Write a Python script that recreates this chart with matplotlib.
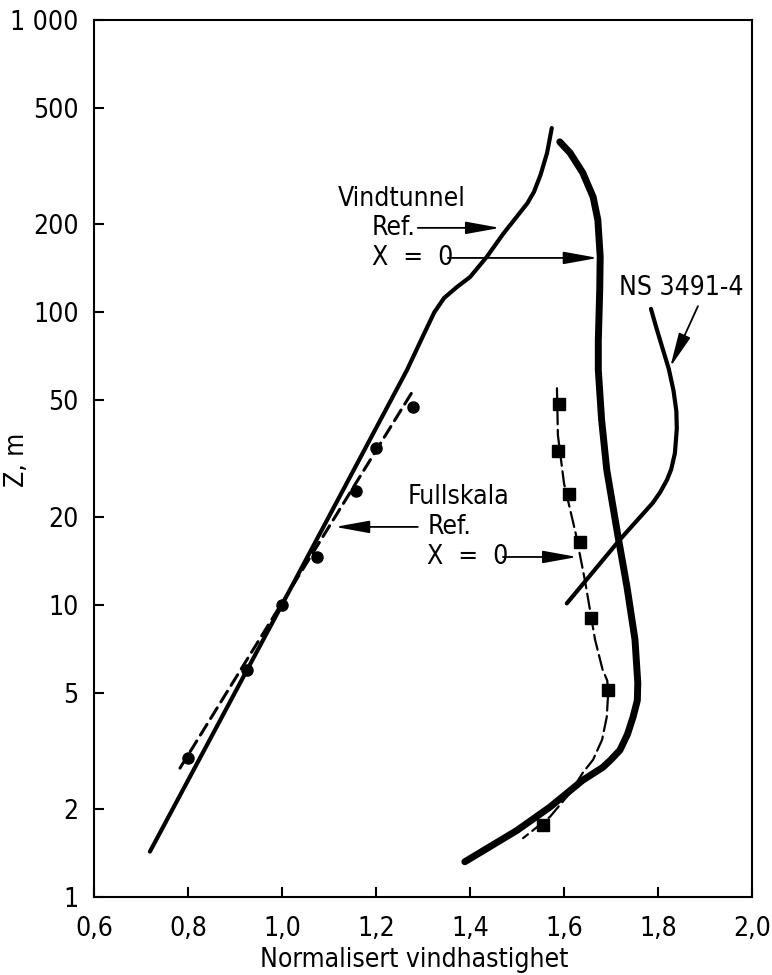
import matplotlib
matplotlib.use("Agg")
import matplotlib.pyplot as plt
from matplotlib import font_manager

plt.rcParams['lines.scale_dashes'] = False
fl = font_manager.fontManager.ttflist
names = {f.name for f in fl}
stretch = 'normal'
fs = 19
if 'Liberation Sans Narrow' in names:
    fam = ['Liberation Sans Narrow', 'DejaVu Sans']
    fs = 20
elif any(f.name == 'DejaVu Sans' and str(f.stretch) in ('condensed', 'semi-condensed') for f in fl):
    fam = ['DejaVu Sans']
    stretch = 'condensed'
else:
    fam = ['Liberation Sans', 'DejaVu Sans']
    fs = 20
plt.rcParams['font.family'] = fam
plt.rcParams['font.stretch'] = stretch

# ---- data ----
x_ticks = [0.6, 0.8, 1.0, 1.2, 1.4, 1.6, 1.8, 2.0]
x_tick_labels = ["0,6", "0,8", "1,0", "1,2", "1,4", "1,6", "1,8", "2,0"]
y_ticks = [1, 2, 5, 10, 20, 50, 100, 200, 500, 1000]
y_tick_labels = ["1", "2", "5", "10", "20", "50", "100", "200", "500", "1 000"]

# Vindtunnel, Ref.
vt_ref_x = [0.719, 1.000, 1.266, 1.300, 1.324, 1.345, 1.372, 1.400, 1.436, 1.470, 1.506,
            1.522, 1.536, 1.550, 1.564, 1.574]
vt_ref_z = [1.43, 10.0, 63.5, 83.0, 100.0, 112.0, 122.0, 132.0, 155.0, 185.0, 219.0,
            236.0, 258.0, 295.0, 351.0, 427.0]

# Vindtunnel, X = 0
vt_x0_x = [1.591, 1.613, 1.640, 1.662, 1.672, 1.677, 1.676, 1.673, 1.673, 1.680, 1.691, 1.715,
           1.734, 1.751, 1.757, 1.756, 1.747, 1.735, 1.719, 1.700, 1.683, 1.640, 1.570, 1.500, 1.389]
vt_x0_z = [383, 351, 300, 248, 207, 155, 119, 80, 63.5, 42.9, 28.9, 17.1,
           11.5, 7.6, 5.4, 4.7, 4.13, 3.6, 3.18, 2.95, 2.78, 2.51, 2.03, 1.69, 1.32]

# NS 3491-4
ns_x = [1.785, 1.797, 1.810, 1.823, 1.833, 1.839, 1.840, 1.836, 1.828, 1.819, 1.805, 1.789,
        1.719, 1.606]
ns_z = [102.8, 88.0, 75.0, 64.0, 54.0, 46.0, 40.0, 33.0, 29.0, 26.7, 24.3, 22.3,
        16.7, 10.1]

# Fullskala, Ref. (points and dashed line)
fs_ref_pts_x = [0.80, 0.925, 1.00, 1.074, 1.157, 1.20, 1.279]
fs_ref_pts_z = [3.0, 6.0, 10.0, 14.6, 24.5, 34.4, 47.5]
fs_ref_line_x = [0.783, 1.277]
fs_ref_line_z = [2.76, 53.4]

# Fullskala, X = 0 (points and dashed curve)
fs_x0_pts_x = [1.589, 1.587, 1.611, 1.634, 1.657, 1.694, 1.555]
fs_x0_pts_z = [48.5, 33.6, 23.9, 16.4, 9.0, 5.11, 1.76]
fs_x0_line_x = [1.585, 1.587, 1.600, 1.625, 1.645, 1.666, 1.682, 1.692, 1.694, 1.691, 1.681,
                1.662, 1.640, 1.613, 1.570, 1.513]
fs_x0_line_z = [55.0, 38.0, 26.0, 17.5, 12.0, 7.6, 6.0, 5.5, 5.0, 4.13, 3.45,
                2.95, 2.66, 2.27, 1.88, 1.59]

# ---- figure ----
fig = plt.figure(figsize=(7.72, 9.75), dpi=100)
ax = fig.add_axes([94/772, 78/975, 658/772, 877/975])
ax.set_yscale('log')
ax.set_xlim(0.6, 2.0)
ax.set_ylim(1, 1000)

ax.plot(vt_ref_x, vt_ref_z, color='black', lw=3.0, solid_capstyle='round', solid_joinstyle='round')
ax.plot(vt_x0_x, vt_x0_z, color='black', lw=5.0, solid_capstyle='round', solid_joinstyle='round')
ax.plot(ns_x, ns_z, color='black', lw=3.0, solid_capstyle='round', solid_joinstyle='round')

l1, = ax.plot(fs_ref_line_x, fs_ref_line_z, color='black', lw=2.2, dash_capstyle='round')
l1.set_dashes((9, 5))
ax.plot(fs_ref_pts_x, fs_ref_pts_z, 'o', color='black', ms=8)

l2, = ax.plot(fs_x0_line_x, fs_x0_line_z, color='black', lw=1.6, dash_capstyle='round')
l2.set_dashes((11, 4))
ax.plot(fs_x0_pts_x, fs_x0_pts_z, 's', color='black', ms=8)

ax.set_xticks(x_ticks)
ax.set_xticklabels(x_tick_labels)
ax.set_yticks(y_ticks)
ax.set_yticklabels(y_tick_labels)
ax.yaxis.set_minor_locator(matplotlib.ticker.NullLocator())
ax.tick_params(axis='both', direction='in', length=7, width=1.5, labelsize=fs, colors='black')
ax.tick_params(axis='x', pad=14)
ax.tick_params(axis='y', pad=11)
for s in ax.spines.values():
    s.set_linewidth(1.5)

fig.text(414/772, 1 - 960/975, "Normalisert vindhastighet", ha='center', va='center', fontsize=fs)
fig.text(17/772, 1 - 460/975, "Z, m", ha='center', va='center', rotation=90, fontsize=fs)

arrow = dict(arrowstyle='-|>,head_length=2.1,head_width=0.38', color='black', lw=1.3,
             shrinkA=0, shrinkB=0)
ax.text(1.119, 244, "Vindtunnel", ha='left', va='center', fontsize=fs)
ax.text(1.191, 194.5, "Ref.", ha='left', va='center', fontsize=fs)
ax.text(1.191, 153.5, "X  =  0", ha='left', va='center', fontsize=fs)
ax.annotate("", xy=(1.464, 194.5), xytext=(1.289, 194.5), arrowprops=arrow)
ax.annotate("", xy=(1.672, 153.5), xytext=(1.353, 153.5), arrowprops=arrow)

ax.text(1.268, 23.4, "Fullskala", ha='left', va='center', fontsize=fs)
ax.text(1.309, 18.45, "Ref.", ha='left', va='center', fontsize=fs)
ax.text(1.309, 14.56, "X  =  0", ha='left', va='center', fontsize=fs)
ax.annotate("", xy=(1.113, 18.45), xytext=(1.289, 18.45), arrowprops=arrow)
ax.annotate("", xy=(1.628, 14.56), xytext=(1.470, 14.56), arrowprops=arrow)

ax.text(1.717, 121.2, "NS 3491-4", ha='left', va='center', fontsize=fs)
ax.annotate("", xy=(1.826, 65), xytext=(1.885, 105), arrowprops=arrow)

fig.savefig("out.png", dpi=100)
